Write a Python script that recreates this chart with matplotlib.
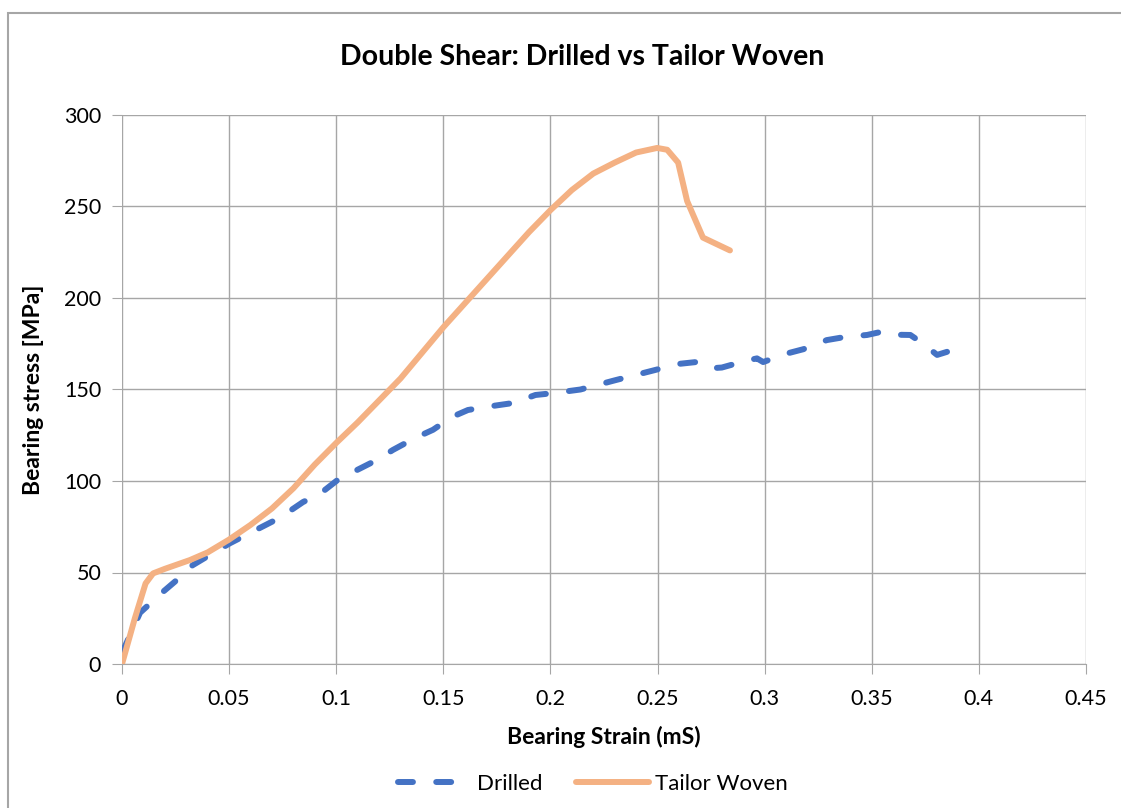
import matplotlib
matplotlib.use("Agg")
import matplotlib.pyplot as plt
from matplotlib.patches import Rectangle

# Data
drilled_x = [0.0, 0.0084, 0.0187, 0.0247, 0.033, 0.041, 0.0504, 0.0738, 0.0845, 0.0924,
             0.1018, 0.1097, 0.119, 0.1265, 0.1368, 0.1452, 0.154, 0.1615, 0.173, 0.1825,
             0.193, 0.2012, 0.214, 0.23, 0.25, 0.26, 0.268, 0.272, 0.276, 0.28, 0.291,
             0.2964, 0.2993, 0.3095, 0.318, 0.329, 0.3375, 0.3478, 0.354, 0.3576, 0.368,
             0.3735, 0.3805, 0.389]
drilled_y = [6, 28, 39, 45, 54, 59.6, 66, 80, 88.5, 93,
             101.6, 106, 111.5, 117, 123.5, 128, 135, 138.8, 141, 142.6,
             147, 148, 150, 155, 161, 164, 165, 164.5, 161.7, 162, 165.6,
             167, 165, 169.4, 172, 177, 178.7, 179.8, 181.4, 180, 179.8,
             175.4, 168.9, 172]

woven_x = [0.0, 0.006, 0.011, 0.0145, 0.02, 0.0317, 0.04, 0.05, 0.06, 0.07, 0.08, 0.09,
           0.1, 0.11, 0.12, 0.13, 0.14, 0.15, 0.16, 0.17, 0.18, 0.19, 0.2, 0.21, 0.22,
           0.23, 0.24, 0.2498, 0.2545, 0.2596, 0.2638, 0.2712, 0.2838]
woven_y = [0, 25, 44, 49.5, 52, 56.8, 61, 68, 76, 85, 96, 109,
           120.8, 132, 144, 156, 170, 184, 197, 210, 223, 236, 248, 259, 268,
           274, 279.5, 282, 281, 274, 253, 233, 226]

title = "Double Shear: Drilled vs Tailor Woven"
xlabel = "Bearing Strain (mS)"
ylabel = "Bearing stress [MPa]"
xticks = [0, 0.05, 0.1, 0.15, 0.2, 0.25, 0.3, 0.35, 0.4, 0.45]
xticklabels = ["0", "0.05", "0.1", "0.15", "0.2", "0.25", "0.3", "0.35", "0.4", "0.45"]
yticks = [0, 50, 100, 150, 200, 250, 300]

plt.rcParams['font.family'] = ['Lato', 'DejaVu Sans']

W, H = 1121, 808
fig = plt.figure(figsize=(W / 100, H / 100), dpi=100)
ax = fig.add_axes([122 / W, 1 - 664 / H, (1086 - 122) / W, (664 - 115) / H])

# chart border
fig.patches.append(Rectangle((8 / W, -0.1), 1.2, 1 - 13 / H + 0.1, transform=fig.transFigure,
                             fill=False, edgecolor='#A6A6A6', linewidth=1.5))

ax.plot(drilled_x, drilled_y, color='#4472C4', linewidth=4.3, linestyle=(0, (2.5, 3.9)),
        dash_capstyle='round', solid_capstyle='round', dash_joinstyle='round',
        label='Drilled', zorder=3)
ax.plot(woven_x, woven_y, color='#F4B183', linewidth=4.3, solid_capstyle='round',
        solid_joinstyle='round', label='Tailor Woven', zorder=4)

ax.set_xlim(0, 0.45)
ax.set_ylim(0, 300)
ax.set_xticks(xticks)
ax.set_xticklabels(xticklabels)
ax.set_yticks(yticks)
ax.grid(True, color='#A6A6A6', linewidth=1.0)
ax.set_axisbelow(True)
for s in ['top', 'right', 'left']:
    ax.spines[s].set_visible(False)
ax.spines['bottom'].set_color('#A6A6A6')
ax.tick_params(axis='x', length=7, color='#A6A6A6', labelsize=15.5, pad=11)
ax.tick_params(axis='y', length=7, color='#A6A6A6', labelsize=15.5, pad=8)

ax.set_xlabel(xlabel, fontsize=16.5, fontweight='bold', labelpad=12)
ax.set_ylabel(ylabel, fontsize=16.5, fontweight='bold', labelpad=14)
fig.text(582 / W, 1 - 57 / H, title, ha='center', va='center', fontsize=20.5, fontweight='bold')

leg = fig.legend(loc='center', bbox_to_anchor=(593 / W, 1 - 784 / H), ncol=2, frameon=False,
                 fontsize=16, handlelength=3.3, columnspacing=1.5, handletextpad=0.25)

fig.savefig('out.png', dpi=100)
